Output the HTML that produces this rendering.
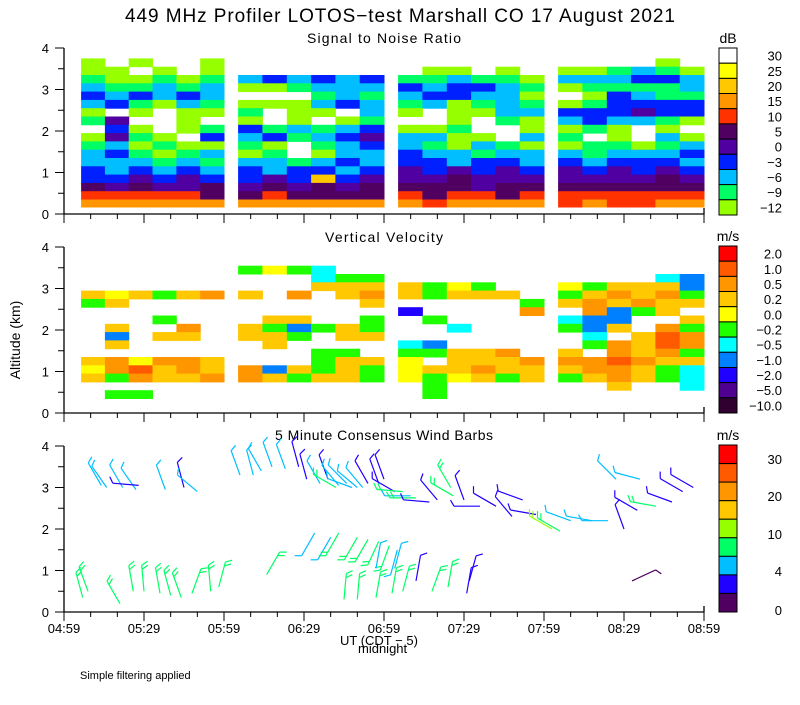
<!DOCTYPE html>
<html><head><meta charset="utf-8"><style>
body{margin:0;background:#fff}
svg text{font-family:"Liberation Sans",sans-serif;fill:#000}
</style></head><body>
<svg id="c" width="800" height="700" xmlns="http://www.w3.org/2000/svg">
<text x="400" y="22" text-anchor="middle" font-size="19" textLength="550" lengthAdjust="spacing">449 MHz Profiler LOTOS−test Marshall CO 17 August 2021</text>
<text x="384" y="43" text-anchor="middle" font-size="14" textLength="154" lengthAdjust="spacing">Signal to Noise Ratio</text>
<text x="384" y="242" text-anchor="middle" font-size="14" textLength="118" lengthAdjust="spacing">Vertical Velocity</text>
<text x="384" y="440" text-anchor="middle" font-size="14" textLength="218" lengthAdjust="spacing">5 Minute Consensus Wind Barbs</text>
<text transform="translate(20,340) rotate(-90)" text-anchor="middle" font-size="14">Altitude (km)</text>
<text x="340" y="645" font-size="13">UT  (CDT − 5)</text>
<text x="358" y="653" font-size="13">midnight</text>
<text x="80" y="679" font-size="11">Simple filtering applied</text>
<g id="g"></g>
</svg>
<script>
const N=null;
const xTickLabels=["04:59","05:29","05:59","06:29","06:59","07:29","07:59","08:29","08:59"];
const yTickLabels=["0","1","2","3","4"];
const segStart=[6.4,65.3,125.3,185.3];
const segEnd=[60,120,180,240];
const rowBase=[3.75,3.55,3.35,3.15,2.95,2.75,2.55,2.35,2.15,1.95,1.75,1.55,1.35,1.15,0.95,0.75,0.55,0.35,0.17];
const rowTop=[3.95,3.75,3.55,3.35,3.15,2.95,2.75,2.55,2.35,2.15,1.95,1.75,1.55,1.35,1.15,0.95,0.75,0.55,0.35];
const snrLevels=[-12,-9,-6,-3,0,5,10,15,20,25,30];
const snrLabels=["30","25","20","15","10","5","0","−3","−6","−9","−12"];
const snrSeg1=[[N,N,N,N,N,N],[-12,N,-12,N,N,-12],[-12,-12,N,-12,N,-12],[-9,-12,-12,-9,-12,-9],[-6,-9,-9,-6,-9,-6],[-3,-6,-3,-6,-3,-6],[-6,-3,-9,-12,-6,-9],[-12,N,-12,N,-12,-12],[-9,0,N,N,-12,N],[N,-3,-12,N,-12,-9],[-12,0,-9,-12,N,-3],[-9,-6,-12,-9,-12,-12],[-6,-3,-9,-12,-9,-6],[-6,-6,-6,-9,-6,-9],[-3,-6,-3,-6,-3,-6],[-3,-3,0,-3,0,-3],[5,0,5,0,0,5],[10,10,10,10,10,5],[15,15,15,15,15,15]];
const snrSeg2=[[N,N,N,N,N,N],[N,N,N,N,N,N],[N,N,N,N,N,N],[-6,-3,-6,-3,-6,-3],[-12,-12,-9,-6,-6,-6],[N,N,N,-9,-6,-9],[-12,-12,-12,-6,-3,-6],[-9,N,-12,-12,N,-6],[-12,N,-12,N,-12,-9],[-3,-9,-6,-9,-6,-3],[-6,-3,-9,-6,-3,0],[-9,-12,N,-9,-6,-3],[-12,-9,N,-12,-6,-6],[-6,-6,-9,-6,-3,-6],[-3,-6,-3,-3,-6,-3],[-3,0,-3,20,-3,0],[0,5,0,5,0,5],[5,10,5,5,5,5],[15,15,15,15,15,15]];
const snrSeg3=[[N,N,N,N,N,N],[N,N,N,N,N,N],[N,-12,-12,N,-12,N],[-9,-9,-6,-9,-9,-12],[-3,-6,-3,-3,-6,-9],[-6,-3,-3,-6,-6,-12],[-9,-6,-12,-9,-6,-9],[-12,N,-12,-12,-6,-6],[N,N,-12,N,-9,-12],[-12,-12,-9,N,N,-12],[-6,-6,-12,-12,N,-6],[-6,-9,-12,-6,-9,-12],[-3,-6,-6,-9,-6,-6],[-3,-3,-6,-3,-3,-6],[0,-3,0,-3,0,-3],[0,0,5,0,0,0],[5,5,5,0,5,5],[10,5,10,10,5,10],[15,10,15,15,15,15]];
const snrSeg4=[[N,N,N,N,N,N],[N,N,N,N,-12,N],[-12,-12,-9,-6,-9,-12],[-6,-6,-6,-3,-3,-6],[-12,-9,-9,-9,-9,-6],[N,-12,-3,-6,-9,-9],[-12,-9,-3,-3,-3,-3],[-3,-3,-3,0,-3,-3],[-6,-3,-6,-6,-9,-12],[-12,-9,-12,N,-12,N],[-9,N,-12,N,-6,-12],[-12,-9,-9,-12,-9,-6],[-6,-9,-6,-6,-6,-3],[-3,-6,-3,-3,-3,-6],[0,-3,0,-3,0,-3],[0,0,0,0,5,0],[5,5,5,5,5,5],[10,10,10,10,10,10],[10,15,10,10,15,15]];
const vvLevels=[-10,-5,-2,-1,-0.5,-0.2,0,0.2,0.5,1,2];
const vvLabels=["2.0","1.0","0.5","0.2","0.0","−0.2","−0.5","−1.0","−2.0","−5.0","−10.0"];
const vvSeg1=[[N,N,N,N,N,N],[N,N,N,N,N,N],[N,N,N,N,N,N],[N,N,N,N,N,N],[N,N,N,N,N,N],[0.3,0.1,0.3,-0.3,0.3,0.6],[-0.3,0.3,N,N,N,N],[N,N,N,N,N,N],[N,N,N,-0.3,N,N],[N,0.3,N,N,0.6,N],[N,-1,N,0.3,0.3,N],[N,0.3,N,N,N,N],[N,N,N,N,N,N],[0.3,0.6,0.1,0.6,0.6,0.3],[0,0.6,1.2,0.3,0.6,0.3],[0.3,-0.3,0.6,0.3,0.3,0.6],[N,N,N,N,N,N],[N,-0.3,-0.3,N,N,N],[N,N,N,N,N,N]];
const vvSeg2=[[N,N,N,N,N,N],[N,N,N,N,N,N],[-0.3,0.1,-0.3,-0.6,N,N],[N,N,N,-0.6,-0.3,-0.3],[N,N,N,0.3,0.3,0.3],[0.3,N,0.6,N,0.3,0.6],[N,N,N,N,N,0.3],[N,N,N,N,N,N],[N,0.3,0.3,N,N,-0.3],[0.3,-0.3,-1,-0.3,0.3,-0.3],[0.3,0.3,-0.3,N,0.3,0.3],[N,0.3,N,N,N,N],[N,N,N,-0.3,-0.3,N],[N,N,N,-0.3,0.3,0.3],[0.6,-1,0.3,-0.3,0.3,-0.3],[0.6,0.3,-0.3,0.3,0.3,-0.3],[N,N,N,N,N,N],[N,N,N,N,N,N],[N,N,N,N,N,N]];
const vvSeg3=[[N,N,N,N,N,N],[N,N,N,N,N,N],[N,N,N,N,N,N],[N,N,N,N,N,N],[0.3,-0.3,0,-0.3,N,N],[0.3,-0.3,0.3,0.3,0.3,N],[N,N,N,N,N,-0.3],[-2,N,N,N,N,0.6],[N,-0.3,N,N,N,N],[N,N,-0.6,N,N,N],[N,N,N,N,N,N],[-0.6,-1,N,N,N,N],[-0.3,-0.3,0.3,0.3,0.6,N],[0.1,N,0.3,0.3,0.3,0.6],[0.1,0.3,0.3,0.6,0.3,0.3],[0.1,-0.3,0,0.3,-0.3,0.3],[N,-0.3,N,N,N,N],[N,-0.3,N,N,N,N],[N,N,N,N,N,N]];
const vvSeg4=[[N,N,N,N,N,N],[N,N,N,N,N,N],[N,N,N,N,N,N],[N,N,N,N,-0.6,-1],[0.1,-0.3,0.3,0.3,0.3,-1],[-0.3,0.3,0.6,0.3,0.6,-0.3],[0.3,0.6,0.3,0.6,0.3,0.3],[N,0.6,-1,-0.3,0.3,N],[-0.6,-1,-1,N,N,0.3],[-0.3,-1,0.3,N,0.6,-0.3],[N,-0.6,N,0.3,1.2,0.6],[N,-0.3,0.6,0.3,1.2,0.6],[0.3,N,0.6,0.3,0.6,-0.3],[0.6,0.6,1.2,0.6,0.3,0.3],[0.3,0.6,0.6,0.3,-0.3,-0.6],[-0.3,0.3,0.6,0.3,-0.3,-0.6],[N,N,0.3,N,N,-0.6],[N,N,N,N,N,N],[N,N,N,N,N,N]];
const windLabels=["30","20","10","4","0"];
const barbTime=[7,9,21,26,30,36,40,44,48,55,58, 76, 94,100,103,110,114,118,122,125, 105,110,117,117,123,124,127,132,138,144,151,152,213,
 14,16,22,27,28,38,45,50, 66,71,74,78,83,88,91,96,99,103,106,110,112,114,118,120,102,108,
 124,127,130,132,137,140,145,146,150,156,162,168,172,177,183,186,190,198,204,210,215,222,228,232,216,207,236];
const barbHeight=[0.35,0.5,0.2,0.5,0.5,0.45,0.4,0.35,0.45,0.5,0.6, 0.9, 1.9,1.8,1.9,1.8,1.75,1.7,1.6,1.5, 0.3,0.3,0.35,1.05,0.45,1.05,0.5,0.75,0.5,0.6,0.45,0.75,0.75,
 3.05,3.0,3.0,2.95,3.05,2.95,3.0,2.9, 3.3,3.3,3.4,3.5,3.45,3.5,3.2,3.1,3.2,3.05,3.1,3.0,3.0,3.1,3.1,3.2,3.0,3.0,
 2.9,2.9,2.8,2.75,2.65,2.7,3.0,2.8,2.7,2.55,2.55,2.3,2.7,2.35,2.0,1.95,2.2,2.2,2.2,2.0,2.45,2.55,2.65,2.9,3.2,3.2,3.0];
const barbDir=[345,340,330,350,355,350,345,340,20,355,15, 30, 210,210,210,210,210,205,200,195, 5,5,10,10,10,15,15,10,20,10,10,15,65,
 330,325,330,325,275,340,345,310, 340,345,330,340,340,345,345,330,340,320,315,310,320,330,340,340,300,290,
 300,275,270,270,275,320,330,300,340,270,300,320,290,280,300,300,290,280,270,340,300,280,290,300,285,315,300];
const barbSpeed=[8,8,8,8,8,8,8,8,8,8,8, 8, 5,5,8,8,8,8,8,5, 8,8,8,5,8,5,8,3,8,8,3,3,1,
 5,5,5,5,3,5,3,5, 5,5,5,5,5,3,3,5,3,5,5,5,5,3,3,3,8,5,
 3,8,5,8,3,3,8,8,3,3,3,3,3,3,11,9,5,5,6,3,3,8,3,3,5,5,3];

const snrColors=["#96ff00","#00ff64","#00beff","#0020ff","#5000a0","#500060","#ff3200","#ff9600","#ffc800","#ffff00","#ffffff"];
const vvColors=["#300030","#500090","#2000ff","#0080ff","#00ffff","#20ff00","#ffff00","#ffc800","#ff9600","#ff5a00","#ff0000"];
const windColors=["#500060","#2000ff","#00beff","#00ff64","#96ff00","#ffc800","#ff9600","#ff5a00","#ff0000"];
const windEdges=[0,2,4,7,10,15,20,25,30];
const NS="http://www.w3.org/2000/svg",G=document.getElementById('g');
const X0=64,X1=704,KM=41.5,panelBase=[214,413,612];
const xs=t=>X0+t*(X1-X0)/240;
const ys=(p,h)=>panelBase[p]-h*KM;
function el(tag,a,parent){const e=document.createElementNS(NS,tag);for(const k in a)e.setAttribute(k,a[k]);(parent||G).appendChild(e);return e;}
function pick(levels,cols,v){let i=0;for(let k=0;k<levels.length;k++)if(v>=levels[k])i=k;return cols[i];}
function pickVV(levels,cols,v){if(v>=0)return pick(levels,cols,v);for(let k=0;k<levels.length;k++)if(levels[k]>=v)return cols[k];return cols[0];}
function drawGrid(p,segs,levels,cols,name,fn){
 segs.forEach((seg,s)=>{const cw=(segEnd[s]-segStart[s])/6;
  seg.forEach((row,r)=>row.forEach((v,c)=>{if(v===null)return;
   const x=xs(segStart[s]+c*cw),y=ys(p,rowTop[r]);
   const e=el('rect',{x:x.toFixed(1),y:y.toFixed(1),width:(xs(segStart[s]+(c+1)*cw)-x+0.5).toFixed(1),height:((rowTop[r]-rowBase[r])*KM+0.5).toFixed(1),fill:fn(levels,cols,v)});
   
   
  }));});
}
drawGrid(0,[snrSeg1,snrSeg2,snrSeg3,snrSeg4],snrLevels,snrColors,'snr',pick);
drawGrid(1,[vvSeg1,vvSeg2,vvSeg3,vvSeg4],vvLevels,vvColors,'vv',pickVV);
barbTime.forEach((t,i)=>{
 const bx=xs(t),by=ys(2,barbHeight[i]),d=barbDir[i]*Math.PI/180,L=26;
 const sx=Math.sin(d),sy=-Math.cos(d);
 const ex=bx+L*sx,ey=by+L*sy;
 const col=pick(windEdges,windColors,barbSpeed[i]);
 const g=el('g',{stroke:col,'stroke-width':1.2,fill:'none'});
 
 
 el('line',{x1:bx.toFixed(1),y1:by.toFixed(1),x2:ex.toFixed(1),y2:ey.toFixed(1)},g);
 const nf=Math.max(1,Math.round(barbSpeed[i]/5)),fd=d+Math.PI/3;
 for(let k=0;k<nf;k++){const fx=ex-k*4*sx,fy=ey-k*4*sy;
  el('line',{x1:fx.toFixed(1),y1:fy.toFixed(1),x2:(fx+7*Math.sin(fd)).toFixed(1),y2:(fy-7*Math.cos(fd)).toFixed(1)},g);}
});
for(let p=0;p<3;p++){
 const base=panelBase[p];
 const ax=el('path',{d:`M${X0},${base-166}V${base}H${X1}v-6`,stroke:'#000','stroke-width':1.3,fill:'none'});
 
 
 for(let h=0;h<=8;h++){const y=ys(p,h/2);el('line',{x1:X0-(h%2?6:9),y1:y,x2:X0,y2:y,stroke:'#000'});
  if(h%2===0){const tx=el('text',{x:X0-15,y:y+5,'text-anchor':'end','font-size':13});tx.textContent=yTickLabels[h/2];
   
   }}
 for(let m=0;m<=24;m++){const x=xs(m*10);const major=m%3===0;el('line',{x1:x,y1:base,x2:x,y2:base+(major?9:5),stroke:'#000'});
  if(p===2&&major){const tx=el('text',{x:x,y:base+21,'text-anchor':'middle','font-size':13});tx.textContent=xTickLabels[m/3];
   
   }}
}
function bar(top,cols,labels,unit,name,labelPos){
 const n=cols.length,h=167/n;
 cols.slice().reverse().forEach((c,i)=>{const r=el('rect',{x:719,y:(top+i*h).toFixed(1),width:18,height:h.toFixed(1),fill:c,stroke:'#000','stroke-width':1});
  
  });
 labels.forEach((l,i)=>{const y=labelPos?labelPos[i]:top+i*h+h/2+5;
  const tx=el('text',{x:782,y:y,'text-anchor':'end','font-size':13});tx.textContent=l;
  
  });
 const u=el('text',{x:728,y:top-5,'text-anchor':'middle','font-size':14});u.textContent=unit;
 
 
}
bar(48,snrColors,snrLabels,'dB','snr-colorbar');
bar(246,vvColors,vvLabels,'m/s','vv-colorbar');
bar(445,windColors,windLabels,'m/s','wind-colorbar',[464,501,539,576,615]);
</script>
</body></html>
